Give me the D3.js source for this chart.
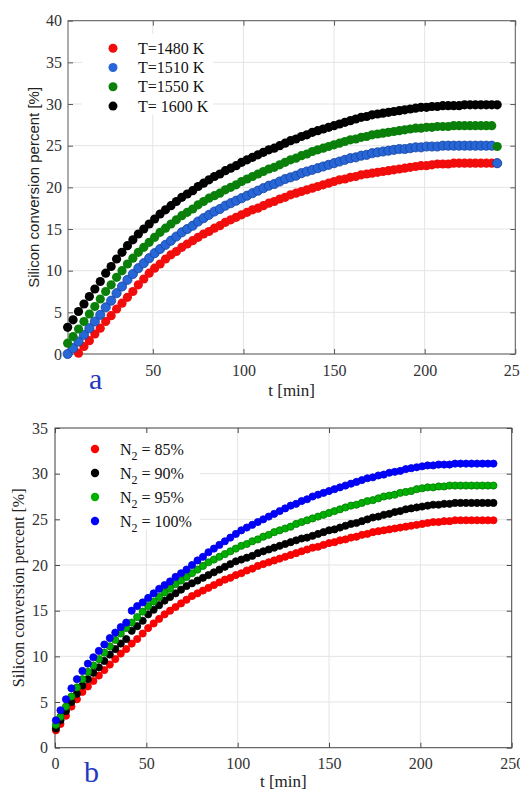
<!DOCTYPE html>
<html>
<head>
<meta charset="utf-8">
<script src="https://cdn.jsdelivr.net/npm/d3@7/dist/d3.min.js"></script>
<style>
  body { margin: 0; background: #fff; }
  svg { display: block; }
</style>
</head>
<body>
<div id="wrapper"></div>
<script>

//..................................................
// 1. data

// panel a: temperature series
const timesA = [3,6,9,12,15,18,21,24,27,30, 33,36,39,42,45,48,51,54,57,60,
  63,66,69,72,75,78,81,84,87,90, 93,96,99,102,105,108,111,114,117,120,
  123,126,129,132,135,138,141,144,147,150, 153,156,159,162,165,168,171,174,177,180,
  183,186,189,192,195,198,201,204,207,210, 213,216,219,222,225,228,231,234,237,240]

const red1480 = [null,null,0.1,0.9,1.6,2.4,3.1,3.9,4.6,5.4, 6.1,6.8,7.5,8.3,9.0,9.7,10.3,10.8,11.4,11.9,
  12.3,12.8,13.2,13.6,14.0,14.4,14.7,15.1,15.4,15.8, 16.1,16.4,16.7,17.0,17.3,17.5,17.8,18.1,18.3,18.6,
  18.8,19.1,19.3,19.5,19.7,19.9,20.1,20.3,20.5,20.7, 20.9,21.0,21.2,21.3,21.5,21.6,21.7,21.8,21.9,22.0,
  22.1,22.2,22.3,22.4,22.5,22.6,22.6,22.7,22.8,22.8, 22.8,22.9,22.9,22.9,22.9,22.9,22.9,22.9,22.9,22.9]

const blue1510 = [0.0,0.7,1.5,2.3,3.1,3.9,4.7,5.6,6.4,7.3, 8.1,8.9,9.6,10.3,10.9,11.5,12.1,12.6,13.1,13.6,
  14.1,14.6,15.0,15.4,15.9,16.3,16.7,17.1,17.4,17.8, 18.1,18.4,18.7,19.0,19.3,19.6,19.9,20.2,20.4,20.7,
  21.0,21.2,21.4,21.7,21.9,22.1,22.3,22.5,22.7,22.9, 23.1,23.3,23.5,23.6,23.8,23.9,24.1,24.2,24.3,24.4,
  24.5,24.6,24.6,24.7,24.8,24.8,24.9,24.9,24.9,25.0, 25.0,25.0,25.0,25.0,25.0,25.0,25.0,25.0,25.0,22.9]

const green1550 = [1.3,2.1,3.0,3.9,4.8,5.7,6.6,7.5,8.3,9.2, 10.0,10.8,11.5,12.2,12.8,13.4,14.0,14.6,15.1,15.6,
  16.1,16.6,17.0,17.4,17.9,18.3,18.7,19.0,19.3,19.7, 20.0,20.3,20.7,21.0,21.3,21.6,21.9,22.2,22.4,22.7,
  23.0,23.3,23.5,23.8,24.0,24.3,24.5,24.7,24.9,25.1, 25.3,25.5,25.7,25.8,26.0,26.1,26.3,26.4,26.5,26.6,
  26.7,26.8,26.9,27.0,27.1,27.1,27.2,27.2,27.3,27.3, 27.3,27.4,27.4,27.4,27.4,27.4,27.4,27.4,27.4,24.9]

const black1600 = [3.2,4.1,5.1,6.0,6.9,7.8,8.7,9.7,10.5,11.4, 12.2,13.0,13.7,14.4,15.0,15.6,16.2,16.8,17.3,17.8,
  18.3,18.8,19.2,19.6,20.1,20.5,20.9,21.3,21.6,22.0, 22.3,22.6,23.0,23.3,23.6,23.9,24.2,24.5,24.7,25.0,
  25.3,25.6,25.8,26.1,26.3,26.6,26.8,27.0,27.2,27.4, 27.6,27.8,28.0,28.2,28.4,28.5,28.7,28.8,28.9,29.0,
  29.1,29.2,29.3,29.4,29.5,29.6,29.6,29.7,29.7,29.8, 29.8,29.8,29.8,29.9,29.9,29.9,29.9,29.9,29.9,29.9]

const legendA = ["T=1480 K", "T=1510 K", "T=1550 K", "T= 1600 K"]
const xTicksA = [50, 100, 150, 200, 250]
const yTicksA = [0, 5, 10, 15, 20, 25, 30, 35, 40]

// panel b: nitrogen series
const timesB = [0.5,3,6,9,12,15,18,21,24,27, 30,33,36,39,42,45,48,51,54,57,
  60,63,66,69,72,75,78,81,84,87, 90,93,96,99,102,105,108,111,114,117,
  120,123,126,129,132,135,138,141,144,147, 150,153,156,159,162,165,168,171,174,177,
  180,183,186,189,192,195,198,201,204,207, 210,213,216,219,222,225,228,231,234,237, 240]

const redN85 = [1.9,2.6,3.5,4.5,5.3,6.1,6.7,7.3,7.9,8.5, 9.1,9.7,10.3,10.8,11.4,11.9,12.5,13.1,13.6,14.1,
  14.6,15.0,15.4,15.8,16.2,16.6,16.9,17.2,17.5,17.8, 18.1,18.4,18.6,18.9,19.1,19.4,19.6,19.9,20.1,20.3,
  20.5,20.7,20.9,21.1,21.3,21.5,21.7,21.9,22.0,22.2, 22.4,22.5,22.7,22.8,23.0,23.1,23.3,23.4,23.6,23.7,
  23.8,23.9,24.0,24.1,24.2,24.3,24.4,24.5,24.6,24.7, 24.7,24.8,24.8,24.9,24.9,24.9,24.9,24.9,24.9,24.9, 24.9]

const blackN90 = [2.1,3.0,4.0,5.0,5.9,6.8,7.5,8.2,8.8,9.5, 10.2,10.8,11.4,11.9,12.8,13.3,13.9,14.6,15.1,15.6,
  16.1,16.5,16.9,17.3,17.7,18.0,18.3,18.6,18.9,19.2, 19.5,19.8,20.1,20.4,20.6,20.8,21.0,21.3,21.5,21.7,
  21.9,22.1,22.3,22.5,22.7,22.9,23.0,23.2,23.4,23.6, 23.8,23.9,24.1,24.3,24.5,24.6,24.8,25.0,25.2,25.3,
  25.5,25.6,25.8,25.9,26.1,26.2,26.3,26.4,26.5,26.6, 26.6,26.7,26.7,26.8,26.8,26.8,26.8,26.8,26.8,26.8, 26.8]

const greenN95 = [2.5,3.4,4.5,5.6,6.6,7.5,8.3,9.0,9.7,10.4, 11.1,11.8,12.5,13.1,13.7,14.3,14.9,15.5,16.0,16.5,
  17.0,17.4,17.9,18.3,18.7,19.1,19.5,19.9,20.3,20.6, 20.9,21.2,21.5,21.8,22.1,22.3,22.6,22.8,23.1,23.3,
  23.6,23.8,24.0,24.2,24.5,24.7,24.9,25.1,25.3,25.5, 25.7,25.9,26.1,26.3,26.5,26.6,26.8,27.0,27.1,27.3,
  27.5,27.6,27.7,27.9,28.0,28.1,28.3,28.4,28.5,28.5, 28.6,28.6,28.7,28.7,28.7,28.7,28.7,28.7,28.7,28.7, 28.7]

const blueN100 = [3.0,4.1,5.3,6.5,7.5,8.4,9.2,9.9,10.6,11.3, 12.0,12.6,13.2,13.7,15.0,15.5,15.9,16.4,16.9,17.4,
  17.8,18.2,18.7,19.1,19.5,20.0,20.5,20.9,21.4,21.8, 22.2,22.6,23.0,23.4,23.8,24.1,24.4,24.7,25.0,25.3,
  25.6,25.9,26.2,26.5,26.7,27.0,27.2,27.5,27.7,27.9, 28.1,28.3,28.5,28.7,28.9,29.1,29.3,29.5,29.6,29.8,
  29.9,30.1,30.2,30.3,30.5,30.6,30.7,30.8,30.9,30.9, 31.0,31.0,31.0,31.1,31.1,31.1,31.1,31.1,31.1,31.1, 31.1]

const legendB = ["85%", "90%", "95%", "100%"]
const xTicksB = [0, 50, 100, 150, 200, 250]
const yTicksB = [0, 5, 10, 15, 20, 25, 30, 35]

//..................................................
// 2. canvas

const serif = "Liberation Serif, DejaVu Serif, Times New Roman, serif"
const sans = "Liberation Sans, Arial, sans-serif"

const wrapper = d3.select("#wrapper")
  .append("svg")
    .attr("width", 520)
    .attr("height", 790)

//..................................................
// 3. one MATLAB-style panel

function drawPanel(p) {
  const bounds = wrapper.append("g")
    .attr("transform", `translate(${p.margin.left}, ${p.margin.top})`)

  const xScale = d3.scaleLinear()
    .domain(p.xDomain)
    .range([0, p.width])

  const yScale = d3.scaleLinear()
    .domain(p.yDomain)
    .range([p.height, 0])

  // grid
  const grid = bounds.append("g")
    .attr("stroke", "#e4e4e4")
    .attr("stroke-width", 1)
  grid.selectAll(".gx")
    .data(p.xTicks)
    .join("line")
      .attr("x1", d => xScale(d))
      .attr("x2", d => xScale(d))
      .attr("y1", 0)
      .attr("y2", p.height)
  grid.selectAll(".gy")
    .data(p.yTicks)
    .join("line")
      .attr("x1", 0)
      .attr("x2", p.width)
      .attr("y1", d => yScale(d))
      .attr("y2", d => yScale(d))

  // legend background hides the grid behind it
  const lg = p.legend
  bounds.append("rect")
    .attr("x", lg.x)
    .attr("y", lg.y)
    .attr("width", lg.w)
    .attr("height", lg.h)
    .attr("fill", "#fff")

  // axes with inward ticks on all four sides
  const styleAxis = (g, withText) => {
    g.select(".domain").remove()
    g.selectAll("line").attr("stroke", p.frame)
    if (withText) {
      g.attr("font-family", serif)
        .attr("font-size", p.tickFontSize)
      g.selectAll("text").attr("fill", "#333")
    }
  }

  bounds.append("g")
    .attr("transform", `translate(0, ${p.height})`)
    .call(d3.axisBottom(xScale).tickValues(p.xTicks).tickSizeInner(-5).tickSizeOuter(0).tickPadding(p.xPad))
    .call(g => styleAxis(g, true))

  bounds.append("g")
    .call(d3.axisTop(xScale).tickValues(p.xTicks).tickSizeInner(-5).tickSizeOuter(0).tickFormat(""))
    .call(g => styleAxis(g, false))

  bounds.append("g")
    .call(d3.axisLeft(yScale).tickValues(p.yTicks).tickSizeInner(-5).tickSizeOuter(0).tickPadding(p.yPad))
    .call(g => styleAxis(g, true))

  bounds.append("g")
    .attr("transform", `translate(${p.width}, 0)`)
    .call(d3.axisRight(yScale).tickValues(p.yTicks).tickSizeInner(-5).tickSizeOuter(0).tickFormat(""))
    .call(g => styleAxis(g, false))

  bounds.append("rect")
    .attr("width", p.width)
    .attr("height", p.height)
    .attr("fill", "none")
    .attr("stroke", p.frame)
    .attr("stroke-width", 1)

  // data
  p.series.forEach(s => {
    const points = d3.zip(p.times, s.values).filter(d => d[1] != null)
    bounds.append("g")
      .selectAll("circle")
      .data(points)
      .join("circle")
        .attr("cx", d => xScale(d[0]))
        .attr("cy", d => yScale(d[1]))
        .attr("r", p.r)
        .attr("fill", s.fill)
        .attr("stroke", s.stroke || "none")
        .attr("stroke-width", 0.8)
  })

  // legend entries
  const rows = bounds.append("g")
    .selectAll("g")
    .data(p.series)
    .join("g")
      .attr("transform", (d, i) => `translate(0, ${lg.row0 + i * lg.step})`)
  rows.append("circle")
    .attr("cx", lg.markerX)
    .attr("r", lg.r)
    .attr("fill", d => d.fill)
  const labels = rows.append("text")
    .attr("x", lg.textX)
    .attr("y", 5.5)
    .attr("font-family", serif)
    .attr("font-size", 16)
    .attr("fill", "#111")
  p.legendText(labels)

  // axis titles
  bounds.append("text")
    .attr("x", p.width / 2)
    .attr("y", p.height + p.xLabelOffset)
    .attr("text-anchor", "middle")
    .attr("font-family", serif)
    .attr("font-size", 17)
    .attr("fill", "#222")
    .text("t [min]")

  bounds.append("text")
    .attr("transform", `translate(${p.yLabelOffset}, ${p.height / 2}) rotate(-90)`)
    .attr("text-anchor", "middle")
    .attr("font-family", p.yLabelFont)
    .attr("font-size", p.yLabelSize)
    .attr("fill", "#222")
    .text("Silicon conversion percent [%]")

  // panel letter
  wrapper.append("text")
    .attr("x", p.tag.x)
    .attr("y", p.tag.y)
    .attr("font-family", serif)
    .attr("font-size", 30)
    .attr("fill", "#2438c0")
    .text(p.tag.text)
}

//..................................................
// 4. panel a

drawPanel({
  margin: { left: 68, top: 20.7 },
  width: 447.3,
  height: 333.3,
  xDomain: [3.2, 250],
  yDomain: [0, 40],
  xTicks: xTicksA,
  yTicks: yTicksA,
  xPad: 11,
  yPad: 6,
  tickFontSize: 16,
  frame: "#5a5a5a",
  r: 4.6,
  times: timesA,
  series: [
    { name: legendA[0], values: red1480, fill: "#f20d0d" },
    { name: legendA[1], values: blue1510, fill: "#2766d6", stroke: "#1742a0" },
    { name: legendA[2], values: green1550, fill: "#0a800a" },
    { name: legendA[3], values: black1600, fill: "#000" },
  ],
  legend: { x: 14, y: 13, w: 131, h: 81, markerX: 45, textX: 70, row0: 27.5, step: 19.3, r: 4.5 },
  legendText: t => t.text(d => d.name),
  xLabelOffset: 42,
  yLabelOffset: -29.5,
  yLabelFont: sans,
  yLabelSize: 15,
  tag: { x: 89, y: 389, text: "a" },
})

//..................................................
// 5. panel b

drawPanel({
  margin: { left: 55, top: 428 },
  width: 456.7,
  height: 319.7,
  xDomain: [0, 250],
  yDomain: [0, 35],
  xTicks: xTicksB,
  yTicks: yTicksB,
  xPad: 10,
  yPad: 7,
  tickFontSize: 16,
  frame: "#4a4a4a",
  r: 3.6,
  times: timesB,
  series: [
    { name: legendB[0], values: redN85, fill: "#ff0000", stroke: "#e80000" },
    { name: legendB[1], values: blackN90, fill: "#000", stroke: "#000" },
    { name: legendB[2], values: greenN95, fill: "#00b000", stroke: "#007c00" },
    { name: legendB[3], values: blueN100, fill: "#0000ff", stroke: "#0000dd" },
  ],
  legend: { x: 3, y: 5, w: 142, h: 97, markerX: 40, textX: 65, row0: 21, step: 24, r: 4.2 },
  legendText: t => {
    t.append("tspan").text("N")
    t.append("tspan").attr("font-size", 12).attr("dy", 5).text("2")
    t.append("tspan").attr("dy", -5).text(d => ` = ${d.name}`)
  },
  xLabelOffset: 39.5,
  yLabelOffset: -31,
  yLabelFont: serif,
  yLabelSize: 16,
  tag: { x: 84, y: 782, text: "b" },
})

</script>
</body>
</html>
